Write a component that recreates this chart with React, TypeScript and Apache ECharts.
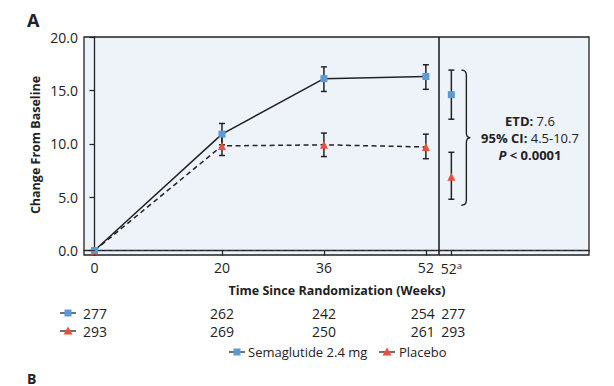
import React, { useEffect, useRef } from "react";
import * as echarts from "echarts";

const weeks = [0, 20, 36, 52];
const semaMean = [0, 10.9, 16.1, 16.3];
const semaLow = [null, 9.9, 14.9, 15.1];
const semaHigh = [null, 11.9, 17.2, 17.4];
const placMean = [0, 9.8, 9.9, 9.7];
const placLow = [null, 8.9, 8.8, 8.6];
const placHigh = [null, 10.7, 11.0, 10.9];
const finalWeek = 56;
const semaFinal = { mean: 14.6, low: 12.3, high: 16.9 };
const placFinal = { mean: 6.9, low: 4.8, high: 9.2 };
const dividerWeek = 54;
const tickWeeks = [0, 20, 36, 52, 56];
const tickLabels = ["0", "20", "36", "52", "52{sup|a}"];
const yTicks = [0, 5, 10, 15, 20];
const semaAtRisk = ["277", "262", "242", "254", "277"];
const placAtRisk = ["293", "269", "250", "261", "293"];
const semaName = "Semaglutide 2.4 mg";
const placName = "Placebo";
const etdLines = ["{b|ETD:} {r|7.6}", "{b|95% CI:} {r|4.5-10.7}", "{bi|P} {b|< 0.0001}"];

const BLUE = "#5b9bd5";
const RED = "#e8503a";
const INK = "#222";
const FONT = "'Open Sans', 'DejaVu Sans', sans-serif";

export default function App() {
  const ref = useRef<HTMLDivElement>(null);
  useEffect(() => {
    document.body.style.margin = "0";
    const chart = echarts.init(ref.current!, null, { renderer: "svg" });
    const errData: any[] = [];
    weeks.forEach((w, i) => {
      if (semaLow[i] != null) errData.push([w, semaLow[i], semaHigh[i]]);
      if (placLow[i] != null) errData.push([w, placLow[i], placHigh[i]]);
    });
    errData.push([finalWeek, semaFinal.low, semaFinal.high]);
    errData.push([finalWeek, placFinal.low, placFinal.high]);

    chart.setOption({
      animation: false,
      grid: {
        left: 84, top: 37, right: 25, bottom: 131,
        show: true, backgroundColor: "#eef3fa", borderColor: INK, borderWidth: 1.3,
      },
      xAxis: {
        type: "value", min: -1.65, max: 77.6,
        splitLine: { show: false },
        axisLine: { lineStyle: { color: INK, width: 1.3 } },
        axisTick: { customValues: tickWeeks, length: 5, lineStyle: { color: INK, width: 1.2 } },
        axisLabel: {
          customValues: tickWeeks,
          formatter: (v: number) => tickLabels[tickWeeks.indexOf(v)] ?? "",
          color: INK, fontFamily: FONT, fontSize: 14, margin: 5,
          rich: { sup: { fontSize: 9.5, fontFamily: FONT, color: INK, verticalAlign: "top", padding: [0, 0, 7, 0] } },
        },
      },
      yAxis: {
        type: "value", min: -0.42, max: 20,
        splitLine: { show: false },
        axisLine: { show: true, lineStyle: { color: INK, width: 1.3 } },
        axisTick: { show: true, customValues: yTicks, length: 5, lineStyle: { color: INK, width: 1.2 } },
        axisLabel: {
          customValues: yTicks,
          formatter: (v: number) => v.toFixed(1),
          color: INK, fontFamily: FONT, fontSize: 14, margin: 6,
        },
      },
      series: [
        {
          type: "custom",
          z: 2,
          data: errData,
          renderItem: (params: any, api: any) => {
            const x = api.value(0);
            const lo = api.coord([x, api.value(1)]);
            const hi = api.coord([x, api.value(2)]);
            const w = 3;
            const st = { stroke: INK, lineWidth: 1.5 };
            return {
              type: "group",
              children: [
                { type: "line", shape: { x1: lo[0], y1: lo[1], x2: hi[0], y2: hi[1] }, style: st },
                { type: "line", shape: { x1: lo[0] - w, y1: lo[1], x2: lo[0] + w, y2: lo[1] }, style: st },
                { type: "line", shape: { x1: hi[0] - w, y1: hi[1], x2: hi[0] + w, y2: hi[1] }, style: st },
              ],
            };
          },
          markLine: {
            silent: true, symbol: "none", label: { show: false },
            data: [
              { yAxis: 0, lineStyle: { type: [4, 3], color: "#333", width: 1.2 } },
              { xAxis: dividerWeek, lineStyle: { type: "solid", color: INK, width: 1.6 } },
            ],
          },
        },
        {
          name: placName, type: "line", z: 3,
          data: weeks.map((w, i) => [w, placMean[i]]),
          symbol: "triangle", symbolSize: 8,
          itemStyle: { color: RED },
          lineStyle: { color: INK, width: 1.5, type: [5, 3.5] },
        },
        {
          name: semaName, type: "line", z: 4,
          data: weeks.map((w, i) => [w, semaMean[i]]),
          symbol: "rect", symbolSize: 7,
          itemStyle: { color: BLUE },
          lineStyle: { color: INK, width: 1.5 },
        },
        {
          type: "scatter", z: 4, symbol: "rect", symbolSize: 7,
          itemStyle: { color: BLUE, opacity: 1 },
          data: [[finalWeek, semaFinal.mean]],
        },
        {
          type: "scatter", z: 4, symbol: "triangle", symbolSize: 8,
          itemStyle: { color: RED, opacity: 1 },
          data: [[finalWeek, placFinal.mean]],
        },
      ],
    });

    const px = (x: number) => chart.convertToPixel({ xAxisIndex: 0 }, x) as number;
    const py = (y: number) => chart.convertToPixel({ yAxisIndex: 0 }, y) as number;

    const yT = py(semaFinal.high);
    const yB = py(placFinal.low) + 6;
    const ym = (yT + yB) / 2;
    const x0 = px(finalWeek) + 10, xv = x0 + 5, xt = xv + 4;
    const d = `M${x0},${yT} Q${xv},${yT} ${xv},${yT + 5} L${xv},${ym - 5} Q${xv},${ym} ${xt},${ym} Q${xv},${ym} ${xv},${ym + 5} L${xv},${yB - 5} Q${xv},${yB} ${x0},${yB}`;
    echarts.graphic.registerShape("brace", echarts.graphic.extendPath(d, {}) as any);

    const marker = (cx: number, cy: number, kind: "sq" | "tri") => {
      const els: any[] = [
        { type: "line", shape: { x1: cx - 8, y1: cy, x2: cx + 8, y2: cy }, style: { stroke: INK, lineWidth: 1.3 } },
      ];
      if (kind === "sq") els.push({ type: "rect", shape: { x: cx - 3.5, y: cy - 3.5, width: 7, height: 7 }, style: { fill: BLUE } });
      else els.push({ type: "polygon", shape: { points: [[cx, cy - 4.5], [cx - 4.5, cy + 3.5], [cx + 4.5, cy + 3.5]] }, style: { fill: RED } });
      return els;
    };

    const richStyles = {
      b: { fontWeight: "bold", fontFamily: FONT, fontSize: 13, fill: INK, lineHeight: 14 },
      r: { fontWeight: "normal", fontFamily: FONT, fontSize: 13, fill: INK, lineHeight: 14 },
      bi: { fontWeight: "bold", fontStyle: "italic", fontFamily: FONT, fontSize: 13, fill: INK, lineHeight: 14 },
    };

    const rowY1 = 313, rowY2 = 331;
    const graphic: any[] = [
      { type: "text", style: { text: "A", x: 27, y: 20, font: `bold 18px ${FONT}`, fill: INK, verticalAlign: "middle" } },
      { type: "text", style: { text: "B", x: 27, y: 385, font: `bold 14px ${FONT}`, fill: INK, verticalAlign: "bottom" } },
      {
        type: "text", rotation: Math.PI / 2, x: 35, y: 145,
        style: { text: "Change From Baseline", x: 0, y: 0, font: `bold 12.5px ${FONT}`, fill: INK, align: "center", verticalAlign: "middle" },
      },
      { type: "text", style: { text: "Time Since Randomization (Weeks)", x: 337, y: 290, font: `bold 12.5px ${FONT}`, fill: INK, align: "center", verticalAlign: "middle" } },
      { type: "brace", style: { stroke: INK, fill: "none", lineWidth: 1.4 } },
      ...etdLines.map((t, i) => ({
        type: "text",
        style: { text: t, x: 530, y: ym - 17 + i * 17, align: "center", verticalAlign: "middle", fontFamily: FONT, fontSize: 13, lineHeight: 14, fill: INK, rich: richStyles },
      })),
      ...marker(68, rowY1, "sq"),
      ...marker(68, rowY2, "tri"),
      ...marker(237, 352, "sq"),
      ...marker(387, 352, "tri"),
      { type: "text", style: { text: semaName, x: 248, y: 352, font: `13px ${FONT}`, fill: INK, verticalAlign: "middle" } },
      { type: "text", style: { text: placName, x: 399, y: 352, font: `13px ${FONT}`, fill: INK, verticalAlign: "middle" } },
    ];
    tickWeeks.forEach((w, i) => {
      const first = i === 0;
      const x = first ? 83 : px(w) + (i === 3 ? -3 : i === 4 ? 2 : 0);
      graphic.push({ type: "text", style: { text: semaAtRisk[i], x, y: rowY1, font: `14px ${FONT}`, fill: INK, align: first ? "left" : "center", verticalAlign: "middle" } });
      graphic.push({ type: "text", style: { text: placAtRisk[i], x, y: rowY2, font: `14px ${FONT}`, fill: INK, align: first ? "left" : "center", verticalAlign: "middle" } });
    });

    chart.setOption({ graphic });
    return () => chart.dispose();
  }, []);
  return <div ref={ref} style={{ width: 614, height: 386 }} />;
}
